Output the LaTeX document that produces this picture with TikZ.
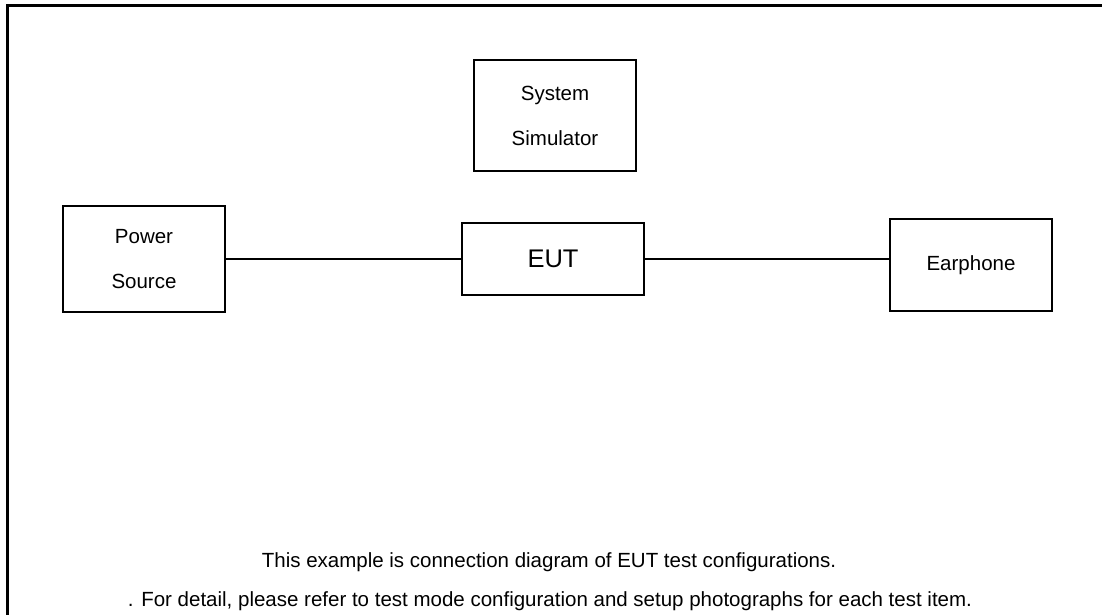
\documentclass[tikz,border=0pt]{standalone}
\usepackage{fontspec}
\setmainfont{Liberation Sans}
\begin{document}
\begin{tikzpicture}[x=1pt, y=-1pt,
    box/.style={draw, line width=1.4pt, inner sep=0pt, align=center,
        font=\fontsize{20.5}{45}\selectfont}]
    \useasboundingbox (0,0) rectangle (1102,615);
    \draw[line width=3pt] (7.5,615) -- (7.5,5.5) -- (1102,5.5);
    \node[box, minimum width=162pt, minimum height=111pt] (sim) at (555,115.5) {System\\Simulator};
    \node[box, minimum width=162pt, minimum height=106pt] (power) at (144,259) {Power\\Source};
    \node[box, minimum width=182pt, minimum height=72pt, font=\fontsize{25.5}{30}\selectfont] (eut) at (553,259) {EUT};
    \node[box, minimum width=162pt, minimum height=92pt] (ear) at (971,265) {Earphone};
    \draw[line width=1.4pt] (power.east) -- (eut.west);
    \draw[line width=1.4pt] (eut.east) -- (eut.east -| ear.west);
    \node[font=\fontsize{20.5}{24}\selectfont] (note1) at (549,562) {This example is connection diagram of EUT test configurations.};
    \node[font=\fontsize{20.5}{24}\selectfont] (note2) at (550,601) {. For detail, please refer to test mode configuration and setup photographs for each test item.};
\end{tikzpicture}
\end{document}
